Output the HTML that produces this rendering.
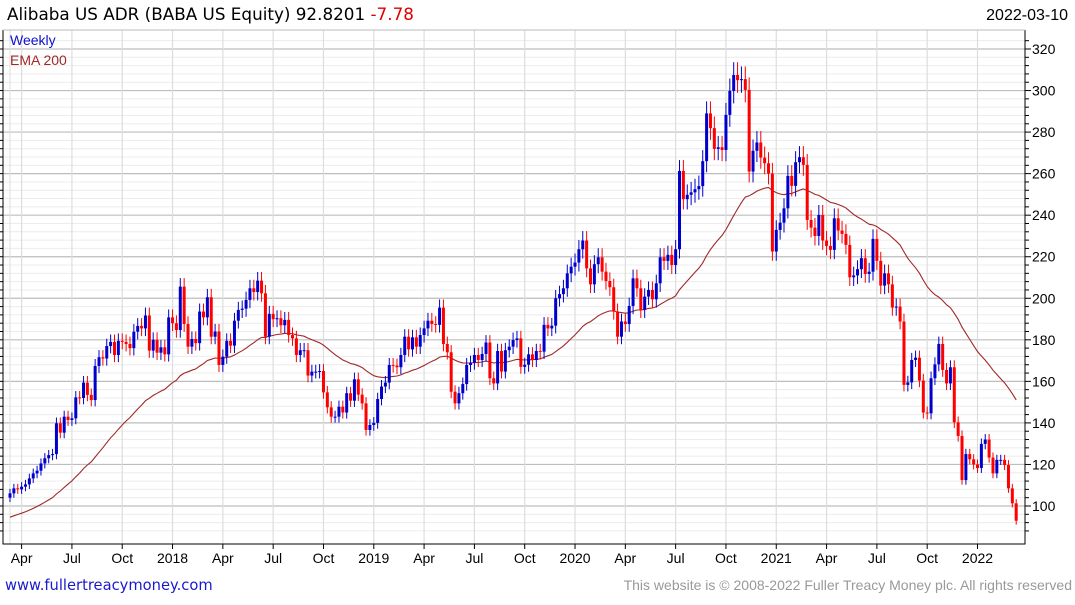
<!DOCTYPE html>
<html><head><meta charset="utf-8"><style>
body{margin:0;background:#fff;width:1075px;height:600px;overflow:hidden;font-family:"Liberation Sans",sans-serif}
svg text{font-family:"Liberation Sans",sans-serif}
</style></head><body>
<svg id="chart" width="1075" height="600" xmlns="http://www.w3.org/2000/svg">
<text x="7" y="20" font-size="16.8" style="font-family:'DejaVu Sans',sans-serif" fill="#000">Alibaba US ADR (BABA US Equity) 92.8201 <tspan fill="#e00000">-7.78</tspan></text>
<text x="1068" y="20" font-size="16" text-anchor="end" fill="#000">2022-03-10</text>
<g id="grid"></g><g id="ema"></g><g id="candles"></g><g id="axes"></g>
<text x="10" y="45" font-size="14" fill="#1010d0">Weekly</text>
<text x="10" y="65" font-size="14" fill="#a02828">EMA 200</text>
<text x="5" y="590" font-size="14.7" style="font-family:'DejaVu Sans',sans-serif" fill="#1a1acc">www.fullertreacymoney.com</text>
<text x="1072" y="590" font-size="14" text-anchor="end" fill="#999">This website is © 2008-2022 Fuller Treacy Money plc. All rights reserved</text>
</svg>
<script>
const closes=[106.1,108.5,108,109.3,110.4,113.3,115.7,117,120.5,123,124.5,125,139.8,135.3,143,141.4,142.2,152.3,152,159.4,153.5,151,167.4,171.6,171,177,179,172.7,179.5,179,178,176,183.9,186.7,185.5,191.7,174.8,180,173.8,176.4,173,190.8,188,184.7,205.6,187.6,176.7,180.4,178.4,193.6,190.8,200.5,181.5,184,167.9,171.9,179.5,177.2,189.2,194.4,195,199.2,204.8,203,208.5,202.4,181.5,192.5,189.9,190.4,187,189.6,182.3,180.7,172.7,175,175,162.8,164.7,164.7,165,154.7,147.5,143,143,147.8,145,154.3,150.7,161,153.6,149.4,136.6,139,140,151.5,157.5,159.4,167.9,167.6,166.8,172.7,181.5,175.4,181.2,176.7,182.3,185.5,189.2,187.6,187.2,195.5,178,174,155,149.4,154.3,158.7,167.9,169,172.7,170.3,173.2,178.7,161.5,159,174.6,164.7,175,176.7,179.9,180.7,167,168,173,170.3,174.6,174.3,187.2,185.5,186.8,200,202,204.8,212,215.2,217.2,223.6,227.8,214.4,206.7,216.4,219.7,212.8,208.3,205.3,193.6,181.5,188.8,187.6,196.3,209.6,204.8,194.4,200.8,204,199.5,207.2,219.7,218,220.9,216,223.6,261.3,247.7,249.8,251,252.5,254,266,289,281.9,271.9,272.7,271.4,288.3,299.8,307.5,305,305.5,300.3,261,271,275,267.7,265,260,222.5,232.9,236.4,243.3,258.9,254.1,265.5,267.9,264.2,237.7,234,230,240.1,227.8,225.2,223.3,238.5,232.6,231,225.7,210.1,211,214,219.3,211.7,212.8,228.6,218,206.1,212,206.7,195.5,196,188.8,158.3,159.5,170.3,171.4,160.4,145,144.6,161.5,168.2,178,165.5,159,166.8,140.3,133.7,112.5,125,122.5,120,118.3,129.9,132,123.3,115.7,122.2,122.2,119.7,108.5,101.3,92.9];
const firstOpen=104;
const yTicks=[100,120,140,160,180,200,220,240,260,280,300,320];
const xTickLabels=['Apr','Jul','Oct','2018','Apr','Jul','Oct','2019','Apr','Jul','Oct','2020','Apr','Jul','Oct','2021','Apr','Jul','Oct','2022'];
const xTickWeeks=[3,16,29,42,55,68,81,94,107,120,133,146,159,172,185,198,211,224,237,250];
const emaPeriod=40, emaSeed=94;

(function(){
const NS='http://www.w3.org/2000/svg';
const PL=3,PR=1025,PT=30,PB=544;
const yS=v=>506-(v-100)*2.0773;
const xS=i=>10+i*3.87;
function mk(tag,attrs,parent){const el=document.createElementNS(NS,tag);for(const k in attrs)el.setAttribute(k,attrs[k]);parent.appendChild(el);return el;}
const grid=document.getElementById('grid'),axes=document.getElementById('axes'),cg=document.getElementById('candles'),eg=document.getElementById('ema');
for(let v=88;v<=324;v+=4){const y=yS(v);if(y<PT||y>PB)continue;
 const major=v%20===0;
 const ln=mk('line',{x1:PL,x2:PR,y1:y,y2:y,stroke:major?'#bdbdbd':'#ececec','stroke-width':major?1.2:1},grid);
 
 
 const tk=mk('line',{x1:PR,x2:PR+(major?6:4),y1:y,y2:y,stroke:'#000'},axes);
 
 
 const tl=mk('line',{x1:0,x2:PL,y1:y,y2:y,stroke:'#000'},axes);
 
 }
yTicks.forEach(v=>{const t=mk('text',{x:1032,y:yS(v)+5,'font-size':14,fill:'#000'},axes);t.textContent=v;
 
 });
const v0=mk('line',{x1:xS(0),x2:xS(0),y1:PT,y2:PB,stroke:'#dddddd'},grid);


xTickWeeks.forEach((w,i)=>{const x=xS(w);
 const g=mk('line',{x1:x,x2:x,y1:PT,y2:PB,stroke:'#dddddd','stroke-width':1.2},grid);
 
 
 const tk=mk('line',{x1:x,x2:x,y1:PB,y2:PB+5,stroke:'#000'},axes);
 
 
 const t=mk('text',{x:x,y:563,'font-size':14,'text-anchor':'middle',fill:'#000'},axes);t.textContent=xTickLabels[i];
 
 });
const fr=mk('path',{d:`M${PL} ${PT} V${PB} H${PR} V${PT}`,fill:'none',stroke:'#000','stroke-width':1},axes);


const tp=mk('line',{x1:PL,x2:PR,y1:PT,y2:PT,stroke:'#bbb'},axes);


closes.forEach((c,i)=>{const o=i===0?firstOpen:closes[i-1];
 const hi=Math.max(o,c)*1.02,lo=Math.min(o,c)*0.98;
 const col=c>=o?'#0000cc':'#ff0000';const x=xS(i);
 const g=mk('g',{},cg);
 
 
 mk('line',{x1:x,x2:x,y1:yS(hi),y2:yS(lo),stroke:col,'stroke-width':1},g);
 const y1=yS(Math.max(o,c)),y2=yS(Math.min(o,c));
 mk('rect',{x:x-1.5,y:y1,width:3,height:Math.max(1,y2-y1),fill:col},g);});
let em=emaSeed;const a=2/(emaPeriod+1);let d='';
closes.forEach((c,i)=>{em=em+a*(c-em);d+=(i?'L':'M')+xS(i).toFixed(1)+' '+yS(em).toFixed(1);});
const p=mk('path',{d:d,fill:'none',stroke:'#a02828','stroke-width':1.1},eg);


})();
</script>
</body></html>
